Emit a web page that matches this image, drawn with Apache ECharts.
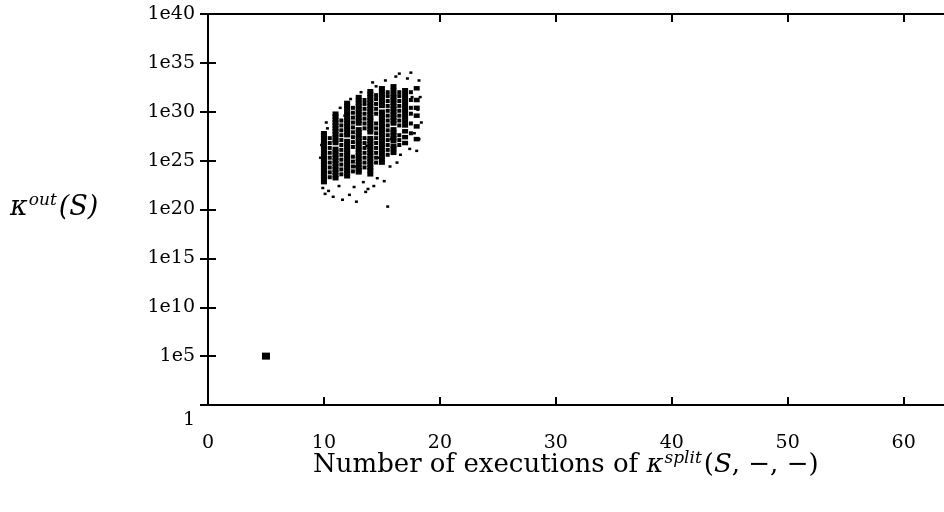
<!DOCTYPE html>
<html>
<head>
<meta charset="utf-8">
<script src="https://cdn.jsdelivr.net/npm/echarts@6/dist/echarts.min.js"></script>
<style>
  html, body { margin: 0; padding: 0; background: #fff; }
  #chart { width: 944px; height: 512px; }
</style>
</head>
<body>
<div id="chart"></div>
<script>
// Exponents (log10 of kappa_out) observed for each split-execution count
const col10 = [22.8, 23.1, 23.4, 23.7, 24.0, 24.3, 24.6, 24.9, 25.2, 25.5, 25.8, 26.1, 26.4, 26.7, 27.0, 27.3, 27.6, 27.8];
const col11 = [23.2, 23.5, 23.8, 24.1, 24.4, 24.7, 25.0, 25.3, 25.6, 25.9, 26.2, 26.8, 27.1, 27.4, 27.7, 28.0, 28.3, 28.6, 28.9, 29.2, 29.5, 29.8];
const col12 = [23.4, 23.7, 24.0, 24.3, 24.6, 24.9, 25.2, 25.5, 25.8, 26.1, 26.4, 26.7, 27.0, 27.6, 27.9, 28.2, 28.5, 28.8, 29.1, 29.4, 29.7, 30.0, 30.3, 30.6, 30.9];
const col13 = [23.8, 24.0, 24.3, 24.6, 24.9, 25.2, 25.5, 25.8, 26.1, 26.4, 26.7, 27.0, 27.3, 27.6, 27.9, 28.2, 28.8, 29.1, 29.4, 29.7, 30.0, 30.3, 30.6, 30.9, 31.2, 31.5];
const col14 = [23.6, 24.0, 24.3, 24.6, 24.9, 25.2, 25.5, 25.8, 26.1, 26.4, 26.7, 27.0, 27.3, 27.9, 28.2, 28.5, 28.8, 29.1, 29.4, 29.7, 30.0, 30.3, 30.6, 30.9, 31.2, 31.5, 31.8, 32.1];
const col15 = [24.8, 25.1, 25.4, 25.8, 26.1, 26.4, 26.7, 27.0, 27.3, 27.6, 27.9, 28.2, 28.5, 28.8, 29.1, 29.4, 29.7, 30.0, 30.6, 30.9, 31.2, 31.5, 31.8, 32.1, 32.4];
const col16 = [25.8, 26.2, 26.5, 27.0, 27.3, 27.6, 27.9, 28.2, 28.8, 29.1, 29.4, 29.7, 30.0, 30.3, 30.6, 30.9, 31.2, 31.5, 31.8, 32.2, 32.6];
const col17 = [26.8, 27.4, 28.0, 28.6, 29.0, 29.4, 29.8, 30.2, 30.6, 31.0, 31.4, 31.8, 32.2];
const col18 = [27.2, 28.5, 29.6, 30.4, 31.2, 32.4];

// Observations falling between the integer columns, at the half-step positions
const mid10 = [23.3, 23.8, 24.3, 24.8, 25.3, 25.8, 26.3, 26.8, 27.3];
const mid11 = [23.6, 24.1, 24.6, 25.1, 25.6, 26.1, 26.6, 27.1, 27.6, 28.1, 28.6, 29.1];
const mid12 = [23.9, 24.4, 24.9, 25.4, 26.4, 26.9, 27.4, 27.9, 28.4, 28.9, 29.4, 29.9, 30.4];
const mid13 = [24.3, 24.8, 25.3, 25.8, 26.3, 26.8, 27.3, 28.3, 28.8, 29.3, 29.8, 30.3, 30.8, 31.2];
const mid14 = [24.8, 25.3, 25.8, 26.3, 26.8, 27.3, 27.8, 28.3, 28.8, 29.8, 30.3, 30.8, 31.3, 31.7];
const mid15 = [25.6, 26.1, 26.6, 27.1, 27.6, 28.1, 28.6, 29.1, 29.6, 30.1, 30.6, 31.1, 31.6, 32.0];
const mid16 = [26.6, 27.1, 27.6, 28.6, 29.1, 29.6, 30.1, 30.6, 31.1, 31.6, 32.0];
const mid17 = [27.8, 28.8, 29.8, 30.4, 31.2, 32.0];

// Loose observations around the main band: [executions, exponent]
const strayPoints = [
  [10.3, 28.3], [10.2, 28.9], [9.9, 22.2], [10.1, 21.6], [10.4, 21.9], [10.8, 21.3],
  [11.3, 22.4], [11.6, 21.0], [11.8, 29.6], [11.4, 30.4], [12.3, 31.3], [12.6, 22.3],
  [12.2, 21.5], [12.8, 20.8], [13.2, 32.0], [13.4, 22.8], [13.6, 21.8], [13.8, 22.1],
  [14.2, 33.0], [14.5, 32.6], [14.6, 23.2], [14.3, 22.4], [15.3, 33.2], [15.5, 20.3],
  [15.7, 24.4], [15.2, 22.9], [16.2, 33.6], [16.5, 33.9], [16.3, 24.8], [16.6, 25.6],
  [17.2, 33.4], [17.5, 34.0], [17.4, 26.2], [17.8, 27.8], [18.2, 33.2], [18.3, 31.5],
  [18.1, 30.2], [18.4, 28.9], [18.2, 27.2], [18.0, 26.0], [9.7, 25.3], [9.8, 26.6],
  [17.6, 31.5], [12.7, 24.4], [13.7, 26.5], [14.7, 25.3], [15.8, 27.2]
];

// Single outlying observation
const outlier = [[5, 5]];

const xTicks = [0, 10, 20, 30, 40, 50, 60];
const yTickExps = [0, 5, 10, 15, 20, 25, 30, 35, 40];

const columns = [
  [10, col10], [11, col11], [12, col12], [13, col13], [14, col14],
  [15, col15], [16, col16], [17, col17], [18, col18]
];
const halfColumns = [
  [10.5, mid10], [11.5, mid11], [12.5, mid12], [13.5, mid13],
  [14.5, mid14], [15.5, mid15], [16.5, mid16], [17.5, mid17]
];

const toValue = ([x, e]) => [x, Math.pow(10, e)];
const flatten = cols => {
  const out = [];
  cols.forEach(([x, exps]) => exps.forEach(e => out.push(toValue([x, e]))));
  return out;
};
const bandData = flatten(columns);
const fillData = flatten(halfColumns);
const strayData = strayPoints.map(toValue);
const outlierData = outlier.map(toValue);

const serif = '"DejaVu Serif", "Liberation Serif", serif';
const ink = '#000';

const lineStyle = { color: ink, width: 2 };
const tickStyle = { show: true, inside: true, length: 8, lineStyle: { color: ink, width: 2 } };
const markStyle = { color: ink, opacity: 1 };

const chart = echarts.init(document.getElementById('chart'), null, { renderer: 'canvas' });

chart.setOption({
  animation: false,
  backgroundColor: '#fff',
  grid: { left: 208, top: 14, right: -6, bottom: 107, outerBoundsMode: 'none', containLabel: false },
  xAxis: [
    {
      type: 'value', min: 0, max: 64, interval: 10, position: 'bottom',
      axisLine: { show: true, onZero: false, lineStyle },
      axisTick: tickStyle,
      splitLine: { show: false },
      axisLabel: {
        margin: 29, color: ink, fontFamily: serif, fontSize: 19,
        formatter: v => (xTicks.includes(v) ? String(v) : '')
      }
    },
    {
      type: 'value', min: 0, max: 64, interval: 10, position: 'top',
      axisLine: { show: true, onZero: false, lineStyle },
      axisTick: tickStyle,
      splitLine: { show: false },
      axisLabel: { show: false }
    }
  ],
  yAxis: [
    {
      type: 'log', logBase: 10, min: 1, max: 1e40, interval: 5, position: 'left',
      axisLine: { show: true, onZero: false, lineStyle },
      axisTick: tickStyle,
      splitLine: { show: false },
      axisLabel: {
        margin: 13, color: ink, fontFamily: serif, fontSize: 19,
        formatter: v => {
          const e = Math.round(Math.log10(v));
          if (!yTickExps.includes(e)) return '';
          return e === 0 ? '{low|1}' : '1e' + e;
        },
        rich: {
          low: { fontFamily: serif, fontSize: 19, color: ink, padding: [30, 0, 0, 0] }
        }
      }
    },
    {
      type: 'log', logBase: 10, min: 1, max: 1e40, interval: 5, position: 'right',
      axisLine: { show: false },
      axisTick: tickStyle,
      splitLine: { show: false },
      axisLabel: { show: false }
    }
  ],
  graphic: [
    {
      type: 'text', left: 10, top: 192,
      style: {
        text: '{k|κ}{sup|out}{k|(}{i|S}{k|)}',
        fill: ink,
        rich: {
          k: { fontFamily: serif, fontSize: 27, fontStyle: 'italic', fill: ink },
          i: { fontFamily: serif, fontSize: 27, fontStyle: 'italic', fill: ink },
          sup: { fontFamily: serif, fontSize: 17, fontStyle: 'italic', fill: ink, verticalAlign: 'top', padding: [0, 2, 14, 1] }
        }
      }
    },
    {
      type: 'text', left: 313, top: 450,
      style: {
        text: '{t|Number of executions of }{k|κ}{sup|split}{t|(}{i|S}{t|, −, −)}',
        fill: ink,
        rich: {
          t: { fontFamily: serif, fontSize: 26, fill: ink },
          k: { fontFamily: serif, fontSize: 26, fontStyle: 'italic', fill: ink },
          i: { fontFamily: serif, fontSize: 26, fontStyle: 'italic', fill: ink },
          sup: { fontFamily: serif, fontSize: 17, fontStyle: 'italic', fill: ink, verticalAlign: 'top', padding: [0, 2, 14, 1] }
        }
      }
    }
  ],
  series: [
    {
      type: 'scatter', xAxisIndex: 0, yAxisIndex: 0,
      symbol: 'rect', symbolSize: [6, 4.5],
      itemStyle: markStyle,
      data: bandData
    },
    {
      type: 'scatter', xAxisIndex: 0, yAxisIndex: 0,
      symbol: 'rect', symbolSize: [4, 4],
      itemStyle: markStyle,
      data: fillData
    },
    {
      type: 'scatter', xAxisIndex: 0, yAxisIndex: 0,
      symbol: 'rect', symbolSize: [3, 2.5],
      itemStyle: markStyle,
      data: strayData
    },
    {
      type: 'scatter', xAxisIndex: 0, yAxisIndex: 0,
      symbol: 'rect', symbolSize: [8, 7],
      itemStyle: markStyle,
      data: outlierData
    }
  ]
});
</script>
</body>
</html>
